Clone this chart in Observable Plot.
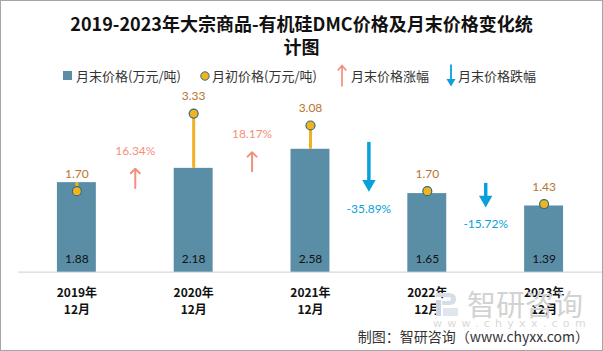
<!DOCTYPE html>
<html><head><meta charset="utf-8">
<script src="https://cdn.jsdelivr.net/npm/d3@7"></script>
<script src="https://cdn.jsdelivr.net/npm/@observablehq/plot@0.6"></script>
<style>
body{margin:0;background:#fff;}
#wrap{position:relative;width:603px;height:351px;box-sizing:border-box;border:1px solid #a6a6a6;overflow:hidden;font-family:Lato,"Noto Sans CJK SC",sans-serif;}
#title{position:absolute;left:0;top:11px;width:601px;text-align:center;font-weight:bold;font-size:18px;line-height:23px;color:#111;font-family:"Noto Sans CJK SC",sans-serif;}
.lg{position:absolute;top:66px;font-size:13px;color:#333;line-height:18px;white-space:nowrap;font-family:"Noto Sans CJK SC",sans-serif;}
.ic{position:absolute;}
#chart{position:absolute;left:-1px;top:87px;}
#wmlogo{position:absolute;left:434px;top:291px;}
#wm{position:absolute;left:466px;top:284px;color:#d2d2d2;font-size:29px;font-family:"Noto Sans CJK SC",sans-serif;line-height:36px;white-space:nowrap;}
#wm2{position:absolute;left:432px;top:316px;color:#d9d9d9;font-size:11px;letter-spacing:5.3px;line-height:14px;font-family:"DejaVu Sans",sans-serif;white-space:nowrap;}
#cap{position:absolute;right:13px;top:325px;font-size:14px;color:#333;line-height:20px;white-space:nowrap;font-family:"Noto Sans CJK SC",sans-serif;}
</style></head>
<body>
<div id="wrap">
<div id="title">2019-2023年大宗商品-有机硅DMC价格及月末价格变化统<br>计图</div>
<svg class="ic" style="left:62px;top:70px" width="10" height="10"><rect x="0" y="0" width="9" height="9" fill="#5a8ea6"/></svg>
<span class="lg" style="left:75px">月末价格(万元/吨)</span>
<svg class="ic" style="left:198px;top:69px" width="12" height="12"><circle cx="6" cy="6" r="4.2" fill="#f3b31f" stroke="#2f6f80" stroke-width="1"/></svg>
<span class="lg" style="left:211px">月初价格(万元/吨)</span>
<svg class="ic" style="left:335px;top:63px" width="12" height="23"><path d="M6 22.5 V2 M1.8 6.5 L6 1.5 L10.2 6.5" fill="none" stroke="#f4907a" stroke-width="1.7"/></svg>
<span class="lg" style="left:350px">月末价格涨幅</span>
<svg class="ic" style="left:444px;top:63px" width="12" height="23"><path d="M6 0.5 V16" stroke="#0aa0dc" stroke-width="1.8"/><path d="M1.5 15 L10.5 15 L6 22.5 Z" fill="#0aa0dc"/></svg>
<span class="lg" style="left:457px">月末价格跌幅</span>
<div id="chart"></div>
<svg id="wmlogo" width="24" height="26"><path d="M1 1 H14 Q21 1 21 7 Q21 13 14 13 H7 V9 H14 Q16 9 16 7 Q16 5 14 5 H1 Z" fill="#d5dde6"/><rect x="1" y="8" width="5" height="16" fill="#c9d6e4"/><rect x="8" y="16" width="15" height="8" fill="#dfe6ee"/></svg>
<div id="wm">智研咨询</div>
<div id="wm2">www.chyxx.com</div>
<div id="cap">制图：智研咨询（www.chyxx.com）</div>
</div>
<script>
const categories = ["2019年\n12月","2020年\n12月","2021年\n12月","2022年\n12月","2023年\n12月"];
const endPrice = [1.88, 2.18, 2.58, 1.65, 1.39];
const startPrice = [1.70, 3.33, 3.08, 1.70, 1.43];
const changePct = [16.34, 18.17, -35.89, -15.72];

const data = categories.map((c, i) => ({i, label: c, end: endPrice[i], start: startPrice[i]}));
const changes = changePct.map((p, i) => {
  const prev = endPrice[i], next = endPrice[i + 1];
  const up = p >= 0;
  const mid = (prev + next) / 2 + (up ? -0.06 : 0.04);
  const half = Math.max(Math.abs(next - prev), 0.4) / 2;
  return {x: i + 0.5, pct: p, up, lo: mid - half, hi: mid + half, text: p.toFixed(2) + "%"};
});
const ups = changes.filter(d => d.up);
const downs = changes.filter(d => !d.up);

const UP = "#f4907a", DOWN = "#0aa0dc";
const chart = Plot.plot({
  width: 603, height: 232,
  marginLeft: 18, marginRight: 0, marginTop: 17, marginBottom: 48,
  x: {domain: [-0.5, 4.5], axis: null},
  y: {domain: [0, 3.5], axis: null},
  style: {fontFamily: 'Lato,"Noto Sans CJK SC",sans-serif', overflow: "visible", background: "transparent"},
  marks: [
    Plot.ruleY([0], {stroke: "#d9d9d9", strokeWidth: 1.2}),
    Plot.rectY(data, {x1: d => d.i - 1/6, x2: d => d.i + 1/6, y1: 0, y2: "end", fill: "#5a8ea6"}),
    Plot.ruleX(data, {x: "i", y1: "end", y2: "start", stroke: "#f0b020", strokeWidth: 3}),
    Plot.dot(data, {x: "i", y: "start", r: 4.5, fill: "#f3b31f", stroke: "#2f6f80", strokeWidth: 1.2}),
    Plot.text(data, {x: "i", y: "start", text: d => d.start.toFixed(2), dy: -17, fill: "#b8742e", fontSize: 12}),
    Plot.text(data, {x: "i", y: 0, text: d => d.end.toFixed(2), dy: -13, fill: "#111", fontSize: 12}),
    Plot.text(data, {x: "i", y: 0, text: "label", dy: 13, lineAnchor: "top", lineHeight: 1.4, fontWeight: "bold", fontSize: 12, fill: "#111", fontFamily: '"Noto Sans CJK SC",sans-serif'}),
    Plot.arrow(ups, {x1: "x", x2: "x", y1: "lo", y2: "hi", stroke: UP, strokeWidth: 2, headLength: 9, headAngle: 90}),
    Plot.text(ups, {x: "x", y: "hi", text: "text", dy: -18, fill: UP, fontSize: 12}),
    Plot.ruleX(downs, {x: "x", y1: "hi", y2: "lo", stroke: DOWN, strokeWidth: 3.5, dy: -5}),
    Plot.dot(downs, {x: "x", y: "lo", symbol: "triangle", rotate: 180, r: 5, fill: DOWN, stroke: "none", dy: -7.8}),
    Plot.text(downs, {x: "x", y: "lo", text: "text", dy: 17, fill: DOWN, fontSize: 12})
  ]
});
document.getElementById("chart").append(chart);
</script>
</body></html>
